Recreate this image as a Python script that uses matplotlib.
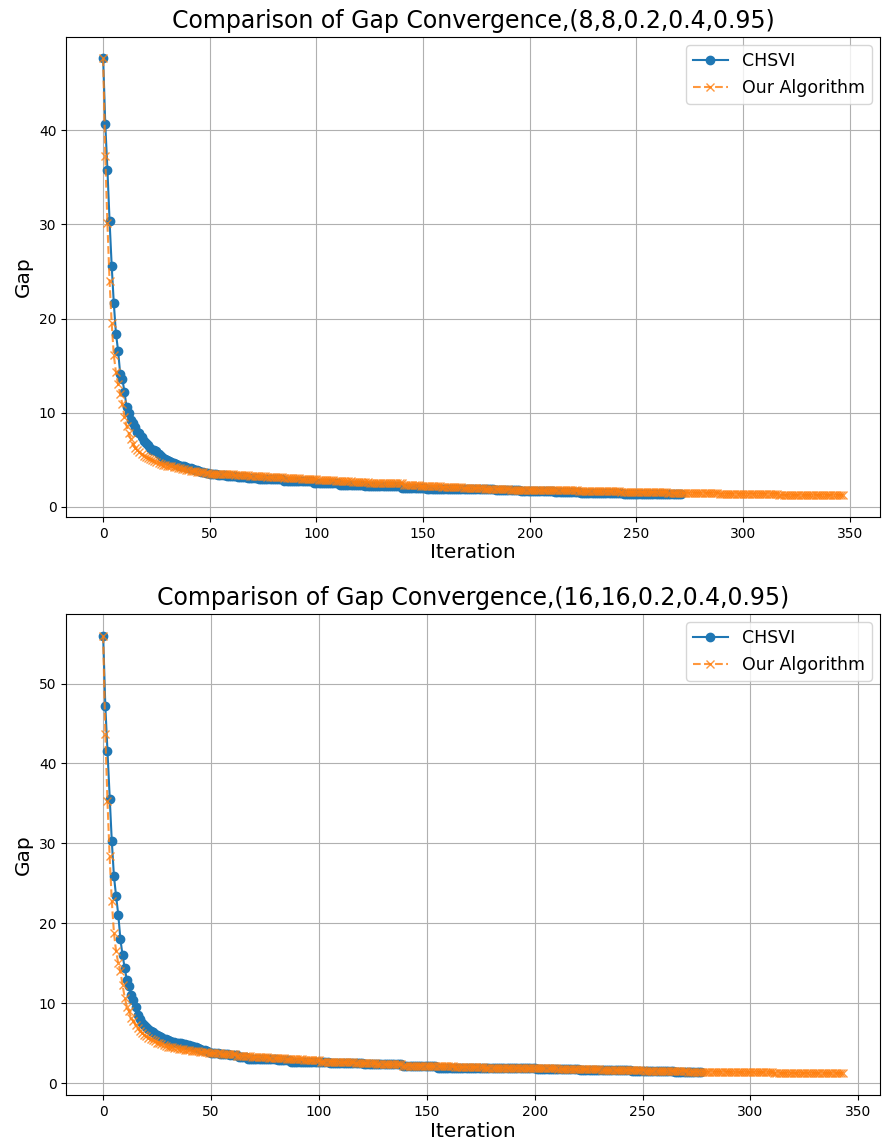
import numpy as np
import matplotlib
matplotlib.use("Agg")
import matplotlib.pyplot as plt

# ---- (8,8,0.2,0.4,0.95) ----
# first 50 iterations read point by point, the flat tail read as (level, run length) steps
chsvi_8_head = [47.6, 40.6, 35.8, 30.4, 25.6, 21.6, 18.4, 16.6, 14.1, 13.6,
                12.2, 10.6, 10.0, 9.2, 8.9, 8.5, 8.0, 7.8, 7.4, 7.0,
                6.8, 6.6, 6.3, 6.1, 6.0, 5.9, 5.6, 5.4, 5.2, 5.1,
                5.0, 4.85, 4.75, 4.65, 4.55, 4.5, 4.4, 4.35, 4.3, 4.2,
                4.15, 4.1, 4.0, 3.95, 3.9, 3.8, 3.75, 3.7, 3.65, 3.6]
chsvi_8_levels = [3.5, 3.42, 3.3, 3.18, 3.08, 2.95, 2.72, 2.55, 2.38, 2.2,
                  2.06, 1.93, 1.86, 1.75, 1.66, 1.58, 1.5, 1.43, 1.38]
chsvi_8_runs = [4, 4, 5, 5, 5, 12, 14, 12, 12, 17,
                12, 16, 16, 12, 16, 12, 20, 22, 6]

ours_8_head = [47.6, 37.2, 30.1, 24.0, 19.5, 16.1, 14.3, 13.0, 12.0, 10.9,
               9.6, 8.6, 7.8, 7.2, 6.7, 6.3, 6.0, 5.8, 5.6, 5.4,
               5.3, 5.2, 5.1, 5.0, 4.9, 4.8, 4.7, 4.6, 4.5, 4.45,
               4.4, 4.35, 4.3, 4.25, 4.2, 4.15, 4.1, 4.05, 4.0, 3.95,
               3.9, 3.85, 3.8, 3.78, 3.75, 3.72, 3.7, 3.68, 3.65, 3.62]
ours_8_levels = [3.55, 3.45, 3.35, 3.25, 3.15, 3.05, 2.95, 2.85, 2.77, 2.65,
                 2.58, 2.5, 2.35, 2.22, 2.12, 2.0, 1.92, 1.85, 1.75, 1.68,
                 1.58, 1.5, 1.42, 1.27]
ours_8_runs = [6, 6, 7, 8, 8, 8, 8, 8, 8, 8,
               8, 8, 8, 10, 10, 10, 12, 14, 18, 20,
               22, 24, 28, 31]

# ---- (16,16,0.2,0.4,0.95) ----
chsvi_16_head = [56.0, 47.2, 41.5, 35.6, 30.3, 25.9, 23.4, 21.1, 18.0, 16.0,
                 14.4, 12.9, 12.2, 11.0, 10.4, 9.6, 8.6, 8.0, 7.6, 7.3,
                 7.0, 6.8, 6.6, 6.4, 6.2, 6.05, 5.9, 5.75, 5.6, 5.5,
                 5.4, 5.3, 5.2, 5.15, 5.1, 5.05, 5.0, 4.95, 4.9, 4.85,
                 4.8, 4.7, 4.6, 4.5, 4.4, 4.3, 4.2, 4.1, 4.0, 3.9]
chsvi_16_levels = [3.8, 3.65, 3.48, 3.32, 3.05, 2.85, 2.68, 2.55, 2.4, 2.17,
                   1.97, 1.86, 1.74, 1.6, 1.5, 1.44]
chsvi_16_runs = [4, 5, 4, 4, 14, 6, 18, 16, 18, 16,
                 26, 20, 20, 24, 20, 13]

ours_16_head = [56.0, 43.7, 35.3, 28.4, 22.8, 18.8, 16.5, 15.0, 14.0, 12.3,
                10.7, 9.6, 9.0, 8.2, 7.75, 7.3, 6.9, 6.5, 6.3, 6.1,
                5.9, 5.7, 5.55, 5.4, 5.25, 5.1, 5.0, 4.9, 4.8, 4.7,
                4.6, 4.55, 4.5, 4.45, 4.4, 4.35, 4.3, 4.25, 4.2, 4.15,
                4.1, 4.07, 4.04, 4.01, 3.98, 3.95, 3.92, 3.89, 3.86, 3.83]
ours_16_levels = [3.75, 3.6, 3.45, 3.3, 3.15, 3.0, 2.85, 2.72, 2.6, 2.48,
                  2.36, 2.22, 2.12, 2.02, 1.93, 1.85, 1.75, 1.65, 1.55, 1.45,
                  1.38, 1.27]
ours_16_runs = [5, 7, 7, 8, 8, 8, 8, 8, 8, 10,
                12, 12, 12, 14, 16, 18, 20, 20, 20, 20,
                20, 33]

titles = ["Comparison of Gap Convergence,(8,8,0.2,0.4,0.95)",
          "Comparison of Gap Convergence,(16,16,0.2,0.4,0.95)"]


def series(head, levels, runs):
    return np.concatenate([np.array(head, float), np.repeat(levels, runs)])


panels = [
    (series(chsvi_8_head, chsvi_8_levels, chsvi_8_runs),
     series(ours_8_head, ours_8_levels, ours_8_runs)),
    (series(chsvi_16_head, chsvi_16_levels, chsvi_16_runs),
     series(ours_16_head, ours_16_levels, ours_16_runs)),
]

fig = plt.figure(figsize=(8.82, 11.46), dpi=100)
boxes = [[0.075, 0.549, 0.923, 0.419], [0.075, 0.0445, 0.923, 0.42]]

for box, title, (chsvi, ours) in zip(boxes, titles, panels):
    ax = fig.add_axes(box)
    ax.plot(np.arange(len(chsvi)), chsvi, "o-", color="#1f77b4", label="CHSVI")
    ax.plot(np.arange(len(ours)), ours, "x--", color="#ff7f0e", alpha=0.8,
            label="Our Algorithm")
    ax.set_title(title, fontsize=17)
    ax.set_xlabel("Iteration", fontsize=14.5, labelpad=2)
    ax.set_ylabel("Gap", fontsize=14.5)
    ax.tick_params(labelsize=10)
    ax.grid(True)
    ax.legend(loc="upper right", fontsize=12.5)

fig.savefig("out.png", dpi=100)
